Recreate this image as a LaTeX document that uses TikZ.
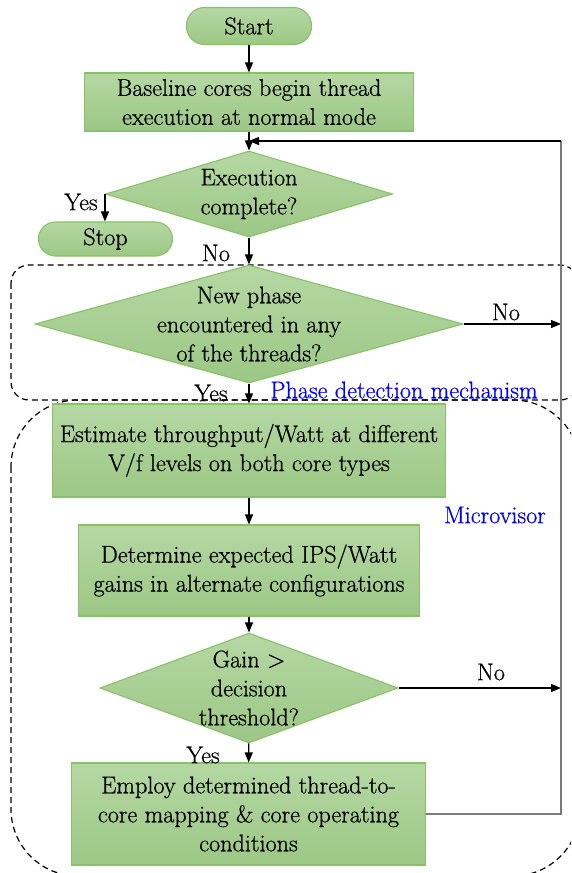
\documentclass[tikz,border=0pt]{standalone}
\usepackage{fontspec}
\setmainfont{Latin Modern Roman}[FakeBold=0.7]
\usetikzlibrary{shapes.geometric,arrows.meta}
\definecolor{boxtop}{HTML}{B5D8A3}
\definecolor{boxbot}{HTML}{9CC785}
\definecolor{boxedge}{HTML}{8AC06A}
\definecolor{railgray}{HTML}{7A7A7A}
\begin{document}
\begin{tikzpicture}[x=1pt,y=-1pt,
  every node/.style={font=\rmfamily\fontsize{24.2}{29}\selectfont, inner sep=0pt},
  greenfill/.style={draw=boxedge, line width=1.1pt, top color=boxtop, bottom color=boxbot},
  process/.style={greenfill, rectangle, align=center},
  terminal/.style={greenfill, rectangle, rounded corners=17pt, align=center},
  decision/.style={greenfill, diamond},
  flow/.style={line width=1.2pt, -{Triangle[length=10pt,width=8pt]}},
  region/.style={dash pattern=on 6pt off 4pt, line width=1.2pt},
  regionlabel/.style={text=blue}]
\useasboundingbox (0,0) rectangle (571,873);
\clip (0,0) rectangle (571,873);

% dashed regions
\draw[region, rounded corners=18pt] (11,265) rectangle (578,400);
\draw[region, rounded corners=67pt] (11,400) rectangle (580,876);
\node[regionlabel] (lblphase) at (404,390) {Phase detection mechanism};
\node[regionlabel] (lblmicro) at (495,515) {Microvisor};

% flow chart nodes
\node[terminal, minimum width=125pt, minimum height=37pt, rounded corners=18pt] (start) at (249,26) {Start};
\node[process, minimum width=329pt, minimum height=58pt] (b1) at (249,102)
  {Baseline cores begin thread\\execution at normal mode};
\node[decision, minimum width=287pt, minimum height=86pt,
  label={[align=center]center:Execution\\complete?}] (d1) at (249,194) {};
\node[terminal, minimum width=134pt, minimum height=34pt] (stop) at (105.5,239) {Stop};
\node[decision, minimum width=428pt, minimum height=118pt,
  label={[align=center]center:New phase\\encountered in any\\of the threads?}] (d2) at (249,324) {};
\node[process, minimum width=393pt, minimum height=93pt] (b2) at (249,450.5)
  {Estimate throughput/Watt at different\\V/f levels on both core types};
\node[process, minimum width=341pt, minimum height=91pt] (b3) at (249,570.5)
  {Determine expected IPS/Watt\\gains in alternate configurations};
\node[decision, minimum width=298pt, minimum height=110pt,
  label={[align=center]center:Gain >\\decision\\threshold?}] (d3) at (249,688) {};
\node[process, minimum width=354pt, minimum height=102pt] (b4) at (248.5,814)
  {Employ determined thread-to-\\core mapping \& core operating\\conditions};

% rail of the feedback loop
\coordinate (railtop) at (561,141);
\coordinate (merge) at (249,141);

% connectors
\draw[flow] (start) -- (b1);
\draw[flow] (b1) -- (d1);
\draw[flow] (d1.west) -- (d1.west |- stop.north);
\draw[flow] (d1) -- (d2);
\draw[flow] (d2.east) -- (d2.east -| railtop);
\draw[flow] (d2) -- (b2);
\draw[flow] (b2) -- (b3);
\draw[flow] (b3) -- (d3);
\draw[flow] (d3.east) -- (d3.east -| railtop);
\draw[flow] (d3) -- (b4);
\draw[railgray, line width=1.2pt] (b4.east) -- (b4.east -| railtop) -- (railtop);
\draw[flow] (railtop) -- (merge);

% branch labels
\node (yes1) at (81,202) {Yes};
\node (no1) at (216,253) {No};
\node (no2) at (506,312) {No};
\node (yes2) at (211,393) {Yes};
\node (no3) at (491,672) {No};
\node (yes3) at (203,755) {Yes};
\end{tikzpicture}
\end{document}
